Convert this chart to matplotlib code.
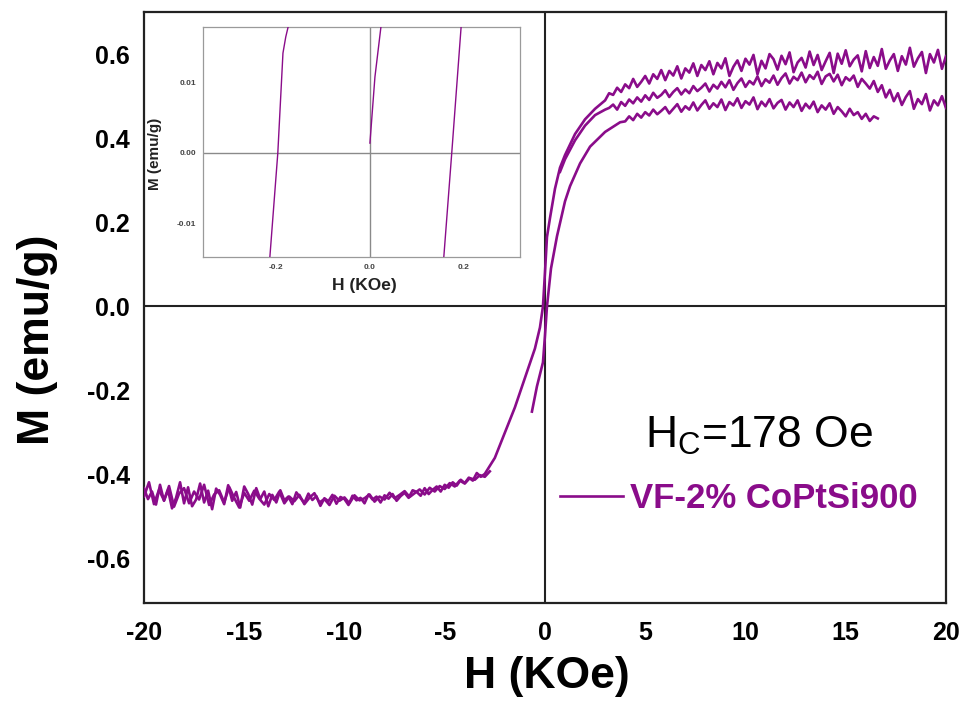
import numpy as np
import matplotlib
matplotlib.use("Agg")
import matplotlib.pyplot as plt

PURPLE = "#8a0c8a"

# ---------------- Hysteresis data (H in kOe, M in emu/g) ----------------
# Descending branch, high-field part: H swept 20 -> 3 kOe in 0.2 kOe steps
desc_hi_range = (20.0, 3.0)
desc_hi_m = [
    0.595, 0.565, 0.610, 0.580, 0.600, 0.555, 0.605, 0.590, 0.570, 0.615,
    0.575, 0.595, 0.560, 0.600, 0.585, 0.565, 0.612, 0.572, 0.593, 0.567,
    0.607, 0.559, 0.597, 0.587, 0.571, 0.609, 0.577, 0.601, 0.555, 0.603,
    0.583, 0.562, 0.598, 0.574, 0.606, 0.568, 0.591, 0.580, 0.557, 0.604,
    0.576, 0.596, 0.563, 0.588, 0.600, 0.566, 0.584, 0.552, 0.598, 0.575,
    0.589, 0.560, 0.585, 0.570, 0.548, 0.590, 0.566, 0.579, 0.552, 0.583,
    0.562, 0.574, 0.548, 0.578, 0.556, 0.566, 0.542, 0.571, 0.549, 0.560,
    0.538, 0.562, 0.541, 0.552, 0.530, 0.548, 0.534, 0.522, 0.541, 0.519,
    0.528, 0.510, 0.520, 0.503, 0.507, 0.490,
]
# Descending branch through the switching region
desc_mid_h = [2.5, 2.0, 1.5, 1.0, 0.75, 0.5, 0.25, 0.1, 0.0, -0.1,
              -0.25, -0.5, -0.75, -1.0, -1.5, -2.0, -2.5, -3.0]
desc_mid_m = [0.470, 0.445, 0.410, 0.360, 0.330, 0.280, 0.210, 0.165, 0.080, 0.000,
              -0.050, -0.100, -0.135, -0.170, -0.240, -0.300, -0.360, -0.398]
# Descending branch, negative saturation: H swept -3 -> -20 kOe
desc_lo_range = (-3.0, -20.0)
desc_lo_m = [
    -0.398, -0.405, -0.396, -0.414, -0.407, -0.420, -0.412, -0.426, -0.418, -0.431,
    -0.424, -0.440, -0.428, -0.436, -0.446, -0.432, -0.450, -0.441, -0.437, -0.455,
    -0.443, -0.451, -0.462, -0.446, -0.457, -0.449, -0.466, -0.452, -0.459, -0.447,
    -0.468, -0.455, -0.461, -0.450, -0.472, -0.458, -0.453, -0.469, -0.448, -0.463,
    -0.456, -0.474, -0.451, -0.460, -0.445, -0.467, -0.455, -0.442, -0.470, -0.452,
    -0.461, -0.437, -0.466, -0.448, -0.475, -0.440, -0.458, -0.432, -0.471, -0.446,
    -0.428, -0.478, -0.441, -0.462, -0.425, -0.470, -0.448, -0.433, -0.482, -0.438,
    -0.466, -0.421, -0.459, -0.475, -0.430, -0.468, -0.418, -0.455, -0.480, -0.436,
    -0.462, -0.424, -0.471, -0.440, -0.458, -0.432,
]

# Ascending branch, negative-field part: H swept -20 -> -2.75 kOe
asc_lo_range = (-20.0, -2.75)
asc_lo_m = [
    -0.452, -0.418, -0.470, -0.436, -0.461, -0.427, -0.476, -0.445, -0.432, -0.468,
    -0.440, -0.459, -0.424, -0.472, -0.447, -0.437, -0.466, -0.429, -0.455, -0.478,
    -0.443, -0.462, -0.438, -0.457, -0.471, -0.446, -0.460, -0.440, -0.468, -0.452,
    -0.463, -0.448, -0.470, -0.455, -0.444, -0.466, -0.458, -0.472, -0.450, -0.462,
    -0.454, -0.468, -0.449, -0.461, -0.456, -0.447, -0.464, -0.452, -0.459, -0.443,
    -0.456, -0.448, -0.439, -0.453, -0.444, -0.435, -0.447, -0.431, -0.440, -0.427,
    -0.434, -0.420, -0.428, -0.414, -0.421, -0.408, -0.412, -0.401, -0.405, -0.392,
]

# Ascending branch (inner trace) from -0.65 kOe, ends at 16.6 kOe
asc_start_h = [-0.65, -0.4, -0.1, 0.0, 0.1, 0.3, 0.6, 1.0, 1.25, 1.75, 2.25, 3.0, 3.75]
asc_start_m = [-0.250, -0.190, -0.133, -0.070, 0.000, 0.090, 0.167, 0.250, 0.286,
               0.340, 0.380, 0.415, 0.438]
asc_hi_range = (4.0, 16.6)
asc_hi_m = [
    0.440, 0.452, 0.443, 0.458, 0.449, 0.462, 0.454, 0.468, 0.457, 0.465,
    0.474, 0.459, 0.470, 0.481, 0.463, 0.476, 0.468, 0.485, 0.466, 0.479,
    0.490, 0.470, 0.483, 0.474, 0.492, 0.467, 0.486, 0.478, 0.495, 0.472,
    0.488, 0.480, 0.497, 0.469, 0.487, 0.476, 0.493, 0.471, 0.484, 0.491,
    0.468, 0.485, 0.474, 0.490, 0.465, 0.482, 0.471, 0.487, 0.462, 0.478,
    0.468, 0.483, 0.458, 0.474, 0.464, 0.452, 0.470, 0.455, 0.462, 0.446,
    0.458, 0.441, 0.452, 0.447,
]

# Second sweep toward +20 kOe (middle trace on the positive side)
mid_start_h = [0.75, 1.0, 1.5, 2.0, 2.5, 3.0]
mid_start_m = [0.320, 0.350, 0.395, 0.430, 0.455, 0.468]
mid_range = (3.2, 20.0)
mid_m = [
    0.472, 0.480, 0.468, 0.486, 0.477, 0.492, 0.483, 0.497, 0.487, 0.502,
    0.491, 0.508, 0.496, 0.503, 0.514, 0.498, 0.510, 0.519, 0.504, 0.516,
    0.507, 0.524, 0.512, 0.520, 0.530, 0.511, 0.527, 0.518, 0.534, 0.521,
    0.538, 0.515, 0.531, 0.542, 0.522, 0.536, 0.528, 0.547, 0.524, 0.540,
    0.532, 0.549, 0.527, 0.543, 0.554, 0.530, 0.546, 0.538, 0.556, 0.533,
    0.550, 0.541, 0.558, 0.529, 0.547, 0.553, 0.535, 0.551, 0.526, 0.545,
    0.537, 0.549, 0.522, 0.541, 0.530, 0.518, 0.536, 0.510, 0.526, 0.497,
    0.515, 0.488, 0.507, 0.479, 0.498, 0.512, 0.470, 0.493, 0.481, 0.505,
    0.466, 0.490, 0.478, 0.500, 0.472,
]

# Low-field detail (inset)
inset_left_h = [-0.214, -0.197, -0.186, -0.180, -0.175]
inset_left_m = [-0.0148, 0.0, 0.0142, 0.0165, 0.0179]
inset_mid_h = [0.0, 0.0107, 0.0235]
inset_mid_m = [0.0014, 0.0108, 0.0179]
inset_right_h = [0.158, 0.175, 0.195]
inset_right_m = [-0.0148, 0.0, 0.0179]

x_ticks = [-20, -15, -10, -5, 0, 5, 10, 15, 20]
y_ticks = [-0.6, -0.4, -0.2, 0.0, 0.2, 0.4, 0.6]
inset_x_ticks = [-0.2, 0.0, 0.2]
inset_y_ticks = [-0.01, 0.0, 0.01]

coercivity_label = r"H$_\mathregular{C}$=178 Oe"
sample_label = "VF-2% CoPtSi900"


def sweep(rng, values):
    return np.linspace(rng[0], rng[1], len(values)), np.asarray(values)


plt.rcParams["font.family"] = ["Liberation Sans", "DejaVu Sans"]

fig = plt.figure(figsize=(9.63, 7.12), dpi=100)
ax = fig.add_axes([0.1495, 0.1531, 0.8328, 0.83])

# descending branch: high field, switching region, negative saturation
h1, m1 = sweep(desc_hi_range, desc_hi_m)
h3, m3 = sweep(desc_lo_range, desc_lo_m)
desc_h = np.concatenate([h1, desc_mid_h, h3[1:]])
desc_m = np.concatenate([m1, desc_mid_m, m3[1:]])

hl, ml = sweep(asc_lo_range, asc_lo_m)
ha, ma = sweep(asc_hi_range, asc_hi_m)
asc_h = np.concatenate([asc_start_h, ha])
asc_mv = np.concatenate([asc_start_m, ma])

hm, mm = sweep(mid_range, mid_m)
mid_h = np.concatenate([mid_start_h, hm])
mid_mv = np.concatenate([mid_start_m, mm])

lw = 1.9
ax.plot(desc_h, desc_m, color=PURPLE, lw=lw, zorder=3)
ax.plot(hl, ml, color=PURPLE, lw=lw, zorder=3)
ax.plot(mid_h, mid_mv, color=PURPLE, lw=lw, zorder=3)
ax.plot(asc_h, asc_mv, color=PURPLE, lw=lw, zorder=3, label=sample_label)

ax.axhline(0, color="#222222", lw=1.5, zorder=1)
ax.axvline(0, color="#222222", lw=1.5, zorder=1)

ax.set_xlim(-20, 20)
ax.set_ylim(-0.705, 0.70)
ax.set_xticks(x_ticks)
ax.set_xticklabels([f"{t:d}" for t in x_ticks], fontsize=18, fontweight="bold")
ax.set_yticks(y_ticks)
ax.set_yticklabels([f"{t:.1f}" for t in y_ticks], fontsize=18, fontweight="bold")
ax.tick_params(axis="x", length=0, pad=13)
ax.tick_params(axis="y", length=0, pad=10)
for s in ax.spines.values():
    s.set_linewidth(1.6)
    s.set_color("#222222")

ax.set_xlabel("H (KOe)", fontsize=32, fontweight="bold")
ax.xaxis.set_label_coords(0.503, -0.089)
ax.set_ylabel("M (emu/g)", fontsize=32, fontweight="bold")
ax.yaxis.set_label_coords(-0.107, 0.445)

ax.text(0.767, 0.283, coercivity_label, transform=ax.transAxes, fontsize=32,
        ha="center", va="center", color="black")

leg = ax.legend(loc="center left", bbox_to_anchor=(0.519, 0.176), frameon=False,
                borderpad=0, borderaxespad=0, handlelength=1.8, handletextpad=0.2,
                prop={"weight": "bold", "size": 25})
for t in leg.get_texts():
    t.set_color(PURPLE)

# ---------------- inset ----------------
ins = fig.add_axes([0.2108, 0.639, 0.3292, 0.323])
ins.plot(inset_left_h, inset_left_m, color=PURPLE, lw=1.0, zorder=3)
ins.plot(inset_mid_h, inset_mid_m, color=PURPLE, lw=1.0, zorder=3)
ins.plot(inset_right_h, inset_right_m, color=PURPLE, lw=1.0, zorder=3)
ins.axhline(0, color="#8a8a8a", lw=1.0, zorder=1)
ins.axvline(0, color="#8a8a8a", lw=1.0, zorder=1)
ins.set_xlim(-0.357, 0.321)
ins.set_ylim(-0.0148, 0.0179)
ins.set_xticks(inset_x_ticks)
ins.set_xticklabels([f"{t:.1f}" for t in inset_x_ticks], fontsize=6,
                    fontweight="bold", color="#444444")
ins.set_yticks(inset_y_ticks)
ins.set_yticklabels([f"{t:.2f}" for t in inset_y_ticks], fontsize=6,
                    fontweight="bold", color="#444444")
ins.tick_params(length=0, pad=5)
for s in ins.spines.values():
    s.set_linewidth(0.9)
    s.set_color("#9a9a9a")
ins.set_xlabel("H (KOe)", fontsize=12.5, fontweight="bold", color="#222222")
ins.xaxis.set_label_coords(0.51, -0.09)
ins.set_ylabel("M (emu/g)", fontsize=11, fontweight="bold", color="#222222")
ins.yaxis.set_label_coords(-0.13, 0.45)

fig.savefig("out.png", dpi=100, facecolor="white")
